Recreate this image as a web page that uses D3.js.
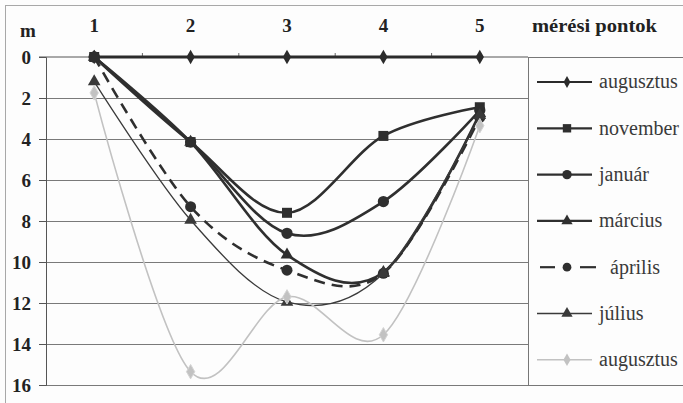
<!DOCTYPE html>
<html><head><meta charset="utf-8">
<script src="https://cdn.jsdelivr.net/npm/d3@7"></script>
<style>
html,body{margin:0;padding:0;background:#fdfdfd;}
svg{display:block;}
</style></head>
<body>
<svg id="chart" width="683" height="403"></svg>
<script>
const categories = ["1", "2", "3", "4", "5"];
const yTicks = [0, 2, 4, 6, 8, 10, 12, 14, 16];
const seriesNames = ["augusztus", "november", "január", "március", "április", "július", "augusztus"];
const augusztus1 = [0, 0, 0, 0, 0];
const november   = [0, 4.15, 7.6, 3.85, 2.45];
const januar     = [0, 4.15, 8.6, 7.05, 2.6];
const marcius    = [0, 4.15, 9.65, 10.5, 2.75];
const aprilis    = [0, 7.3, 10.4, 10.55, 2.95];
const julius     = [1.2, 7.95, 11.95, 10.55, 2.85];
const augusztus2 = [1.75, 15.35, 11.7, 13.55, 3.35];
const xTitle = "mérési pontok";
const yTitle = "m";

const seriesValues = [augusztus1, november, januar, marcius, aprilis, julius, augusztus2];
const styles = [
  {sym: d3.symbolDiamond, size: 60, lsize: 40, color: "#2b2b2b", width: 3, dash: null},
  {sym: d3.symbolSquare, size: 100, lsize: 70, color: "#2f2f2f", width: 2.6, dash: null},
  {sym: d3.symbolCircle, size: 100, lsize: 70, color: "#2f2f2f", width: 2.6, dash: null},
  {sym: d3.symbolTriangle, size: 70, lsize: 55, color: "#2f2f2f", width: 2.6, dash: null},
  {sym: d3.symbolCircle, size: 95, lsize: 60, color: "#2f2f2f", width: 2.6, dash: "11,7"},
  {sym: d3.symbolTriangle, size: 70, lsize: 55, color: "#3a3a3a", width: 1.3, dash: null},
  {sym: d3.symbolDiamond, size: 60, lsize: 45, color: "#c2c2c2", width: 1.6, dash: null}
];
const FONT = "'Liberation Serif'";

const svg = d3.select("#chart");
const L = 46, R = 528, T = 57, B = 385;

// outer frame
svg.append("rect").attr("x", 5.5).attr("y", 5.5).attr("width", 720).attr("height", 420)
  .attr("fill", "none").attr("stroke", "#a8a8a8").attr("stroke-width", 1);

const x = d3.scaleBand().domain(categories).range([L, R]);
const xc = c => x(c) + x.bandwidth() / 2;
const y = d3.scaleLinear().domain([0, 16]).range([T, B]);

// gridlines
const grid = svg.append("g").attr("transform", `translate(${L},0)`)
  .call(d3.axisLeft(y).tickValues(yTicks.slice(1)).tickSize(-(R - L)).tickFormat(""));
grid.select(".domain").remove();
grid.selectAll(".tick line").attr("stroke", "#7a7a7a").attr("stroke-width", 1);

// left axis
const ya = svg.append("g").attr("transform", `translate(${L},0)`)
  .call(d3.axisLeft(y).tickValues(yTicks).tickSize(7).tickPadding(8));
ya.select(".domain").attr("stroke", "#555").attr("stroke-width", 1);
ya.selectAll(".tick line").attr("stroke", "#555");
ya.selectAll(".tick text").style("font-family", FONT).style("font-weight", "bold")
  .style("font-size", "19px").attr("fill", "#222").attr("dy", "0.34em");

// top axis (x axis crossing at 0)
const xa = svg.append("g").attr("transform", `translate(0,${T})`)
  .call(d3.axisTop(x).tickSize(0).tickPadding(25));
xa.select(".domain").attr("stroke", "#555").attr("stroke-width", 1).attr("d", `M${L - 7},0H${R}`);
xa.selectAll(".tick text").style("font-family", FONT).style("font-weight", "bold")
  .style("font-size", "19px").attr("fill", "#222");
// boundary tick marks
svg.append("g").selectAll("line").data(categories.slice(1)).join("line")
  .attr("x1", d => x(d)).attr("x2", d => x(d)).attr("y1", T).attr("y2", T - 4)
  .attr("stroke", "#666");

// titles
svg.append("text").attr("x", 20).attr("y", 37).text(yTitle)
  .style("font-family", FONT).style("font-weight", "bold").style("font-size", "19px").attr("fill", "#222");
svg.append("text").attr("x", 532).attr("y", 32).text(xTitle)
  .style("font-family", FONT).style("font-weight", "bold").style("font-size", "19px").attr("fill", "#222")
  .attr("textLength", 125).attr("lengthAdjust", "spacingAndGlyphs");

// series (drawn in order, later on top)
const line = d3.line().x((d, i) => xc(categories[i])).y(d => y(d)).curve(d3.curveCardinal.tension(0));
seriesValues.forEach((vals, k) => {
  const st = styles[k];
  svg.append("path").datum(vals).attr("d", line)
    .attr("fill", "none").attr("stroke", st.color).attr("stroke-width", st.width)
    .attr("stroke-dasharray", st.dash).attr("stroke-linejoin", "round");
  svg.append("g").selectAll("path").data(vals).join("path")
    .attr("transform", (d, i) => `translate(${xc(categories[i])},${y(d)})`)
    .attr("d", d3.symbol().type(st.sym).size(st.size))
    .attr("fill", st.color).attr("stroke", k === 6 ? "#d4d4d4" : "none");
});

// legend
svg.append("rect").attr("x", R + 0.5).attr("y", T + 0.5).attr("width", 200).attr("height", B - T)
  .attr("fill", "none").attr("stroke", "#777").attr("stroke-width", 1);
const leg = svg.append("g");
seriesNames.forEach((name, k) => {
  const st = styles[k];
  const ly = 82 + k * 46.3;
  const g = leg.append("g").attr("transform", `translate(0,${ly})`);
  if (k === 4) {
    g.append("line").attr("x1", 540).attr("x2", 555).attr("y1", 0).attr("y2", 0)
      .attr("stroke", st.color).attr("stroke-width", 2.2);
    g.append("line").attr("x1", 580).attr("x2", 596).attr("y1", 0).attr("y2", 0)
      .attr("stroke", st.color).attr("stroke-width", 2.2);
  } else {
    g.append("line").attr("x1", 537).attr("x2", 592).attr("y1", 0).attr("y2", 0)
      .attr("stroke", st.color).attr("stroke-width", Math.min(st.width, 2.2));
  }
  g.append("path").attr("transform", `translate(567,0)`)
    .attr("d", d3.symbol().type(st.sym).size(st.lsize)).attr("fill", st.color);
  g.append("text").attr("x", k === 4 ? 610 : 599).attr("y", 0).attr("dy", "0.32em").text(name)
    .style("font-family", FONT).style("font-size", "20px").attr("fill", "#3a3a3a");
});
</script>
</body></html>
